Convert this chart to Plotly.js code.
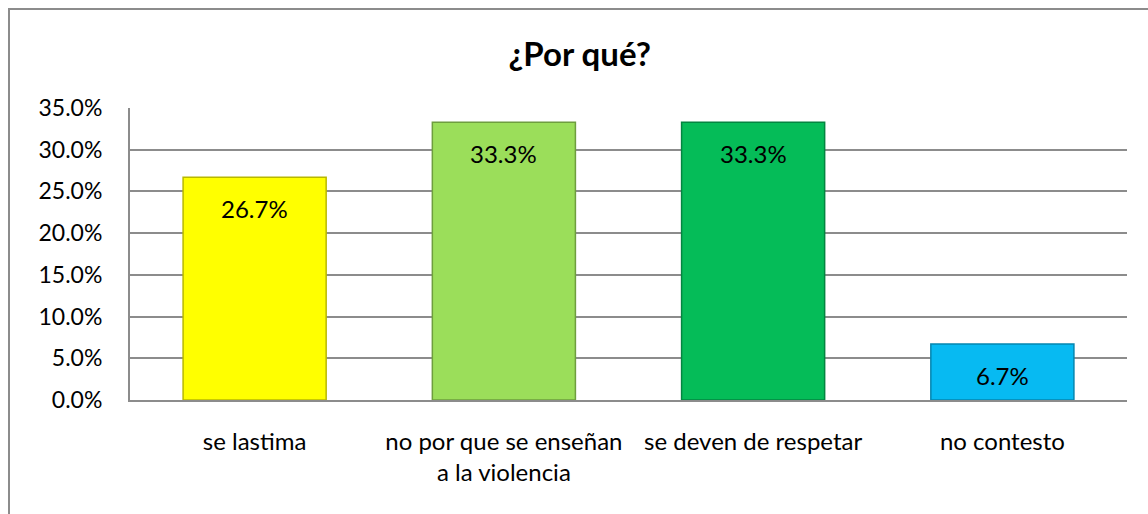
<!DOCTYPE html>
<html>
<head>
<meta charset="utf-8">
<script src="https://cdn.plot.ly/plotly-3.0.1.min.js"></script>
<style>
  html, body { margin: 0; padding: 0; background: #fff; }
  #wrap { position: relative; width: 1148px; height: 514px; }
  #chart { width: 1148px; height: 514px; }
  #frame { position: absolute; left: 8px; top: 8px; width: 1160px; height: 520px;
           border-left: 2px solid #8c8c8c; border-top: 2px solid #8c8c8c; pointer-events: none; }
</style>
</head>
<body>
<div id="wrap">
  <div id="chart"></div>
  <div id="frame"></div>
</div>
<script>
const categories = ["se lastima", "no por que se enseñan<br>a la violencia", "se deven de respetar", "no contesto"];
const values = [0.267, 0.333, 0.333, 0.067];
const labels = ["26.7%", "33.3%", "33.3%", "6.7%"];
const barColors = ["#FFFF00", "#9BDE5A", "#05BC58", "#07BAF2"];
const edgeColors = ["#B8B800", "#6E9E3E", "#038540", "#0586B0"];

const font = "Lato, 'Open Sans', sans-serif";

const trace = {
  type: "bar",
  x: categories,
  y: values,
  marker: { color: barColors, line: { color: edgeColors, width: 1.5 } },
  hoverinfo: "none"
};

const annotations = categories.map((c, i) => ({
  x: c, y: values[i], xref: "x", yref: "y",
  text: labels[i], showarrow: false,
  yanchor: "middle", yshift: -31,
  font: { family: font, size: 24, color: "#000" }
}));

const layout = {
  width: 1148, height: 514,
  margin: { l: 130, r: 21, t: 108, b: 114 },
  paper_bgcolor: "#fff", plot_bgcolor: "#fff",
  title: { text: "<b>¿Por qué?</b>", x: 0.505, xanchor: "center", y: 0.895, yanchor: "middle",
           font: { family: font, size: 33, color: "#000" } },
  bargap: 0.426,
  showlegend: false,
  xaxis: {
    showgrid: false, showline: true, linecolor: "#8c8c8c", linewidth: 2,
    tickfont: { family: font, size: 24, color: "#000" },
    ticks: "", ticklabelstandoff: 19, fixedrange: true
  },
  yaxis: {
    range: [0, 0.35], dtick: 0.05, tickformat: ".1%",
    showgrid: true, gridcolor: "#8c8c8c", gridwidth: 2,
    showline: true, linecolor: "#8c8c8c", linewidth: 2, zeroline: false,
    tickfont: { family: font, size: 23, color: "#000" },
    ticks: "", ticklabelstandoff: 21, fixedrange: true
  },
  annotations: annotations
};

Plotly.newPlot("chart", [trace], layout, { displayModeBar: false, staticPlot: true });
</script>
</body>
</html>
